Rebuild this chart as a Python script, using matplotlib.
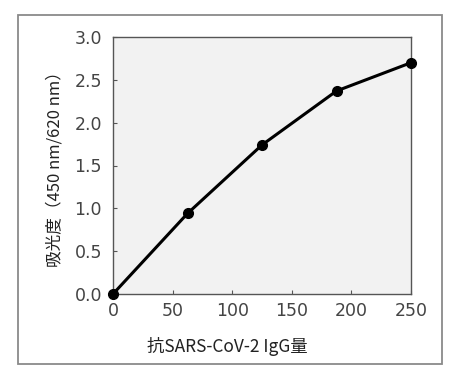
import matplotlib
matplotlib.use('Agg')

import matplotlib.pyplot as plt
from matplotlib.patches import Rectangle

plt.rcParams['font.family'] = ['Noto Sans CJK JP', 'DejaVu Sans']

# Data
igg_amount = [0, 62.5, 125, 187.5, 250]
absorbance = [0.0, 0.94, 1.74, 2.37, 2.70]
x_ticks = [0, 50, 100, 150, 200, 250]
y_ticks = [0.0, 0.5, 1.0, 1.5, 2.0, 2.5, 3.0]

fig = plt.figure(figsize=(4.63, 3.83), dpi=100)
ax = fig.add_axes([113 / 463, 1 - 294 / 383, 298 / 463, 257 / 383])

ax.set_facecolor('#f2f2f2')
ax.plot(igg_amount, absorbance, color='black', linewidth=2.2,
        marker='o', markersize=7, clip_on=False, zorder=3)

ax.set_xlim(0, 250)
ax.set_ylim(0, 3.0)
tick_font = dict(family=['DejaVu Sans'], fontsize=12.5)
ax.set_xticks(x_ticks, labels=[str(v) for v in x_ticks], **tick_font)
ax.set_yticks(y_ticks, labels=[f'{v:.1f}' for v in y_ticks], **tick_font)
ax.tick_params(direction='in', length=3, width=0.8, colors='#555555',
               labelcolor='#444444')
ax.tick_params(axis='y', pad=8)
ax.tick_params(axis='x', pad=6)
for s in ax.spines.values():
    s.set_color('#555555')
    s.set_linewidth(1.0)

# x label sits left of the axes centre in the reference
fig.text(227 / 463, 1 - 347 / 383, '抗SARS-CoV-2 IgG量', fontsize=12.5,
         color='#222222', ha='center', va='center')
ax.set_ylabel('吸光度（450 nm/620 nm）', fontsize=12, color='#222222', labelpad=8)

# Outer frame
fig.patches.append(Rectangle((18 / 463, 1 - 364 / 383), 424 / 463, 349 / 383,
                             transform=fig.transFigure, fill=False,
                             edgecolor='#8a8a8a', linewidth=1.3))

fig.savefig('out.png', dpi=100)
plt.close(fig)
